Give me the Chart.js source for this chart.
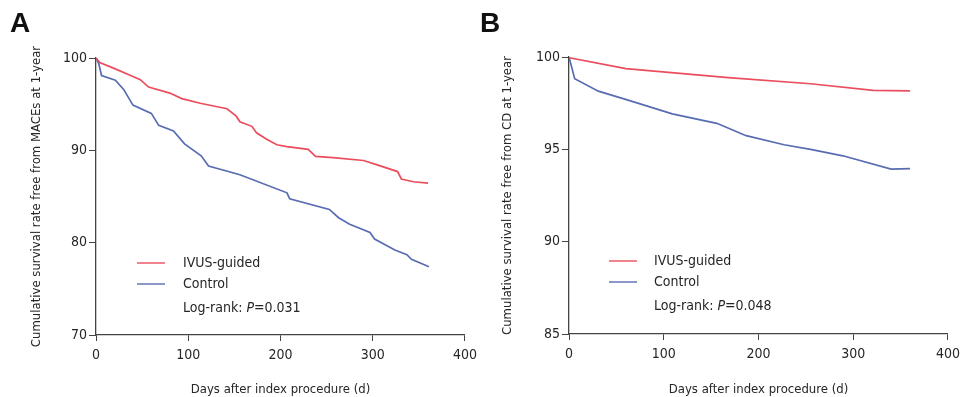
<!DOCTYPE html>
<html>
<head>
<meta charset="utf-8">
<script src="https://cdn.jsdelivr.net/npm/chart.js@4.4.1/dist/chart.umd.min.js"></script>
<style>
  body { margin: 0; background: #fff; }
  #wrap { position: relative; width: 966px; height: 397px; overflow: hidden; }
  .panel { position: absolute; top: 0; width: 483px; height: 397px; }
  .tag { position: absolute; font: bold 28px "Liberation Sans", Arial, sans-serif; line-height: 28px; color: #111; }
</style>
</head>
<body>
<div id="wrap">
  <div class="panel" style="left:0"><canvas id="chartA"></canvas></div>
  <div class="panel" style="left:483px"><canvas id="chartB"></canvas></div>
  <div class="tag" style="left:10px;top:9px">A</div>
  <div class="tag" style="left:480px;top:9px">B</div>
</div>
<script>
// Panel A: survival free from MACEs (days, %)
const daysA_ivus = [0, 4, 19, 40, 48, 57, 80, 93, 113, 142, 152, 156, 169, 174, 185, 196, 207, 230, 238, 257, 290, 304, 327, 331, 344, 360];
const survA_ivus = [100, 99.5, 98.9, 98.0, 97.65, 96.85, 96.2, 95.6, 95.1, 94.5, 93.7, 93.1, 92.6, 91.9, 91.2, 90.6, 90.4, 90.1, 89.35, 89.2, 88.9, 88.45, 87.7, 86.9, 86.6, 86.45];
const daysA_ctrl = [0, 3, 6, 21, 30, 40, 60, 68, 84, 96, 114, 122, 156, 207, 210, 253, 263, 275, 297, 302, 324, 337, 342, 361];
const survA_ctrl = [100, 99.4, 98.1, 97.6, 96.6, 94.9, 94.0, 92.7, 92.1, 90.7, 89.4, 88.3, 87.35, 85.4, 84.75, 83.6, 82.7, 82.0, 81.1, 80.4, 79.2, 78.7, 78.2, 77.4];

// Panel B: survival free from CD (days, %)
const daysB_ivus = [0, 60, 102, 168, 255, 321, 360];
const survB_ivus = [99.96, 99.37, 99.18, 98.88, 98.55, 98.19, 98.17];
const daysB_ctrl = [0, 6, 31, 64, 109, 156, 187, 227, 255, 289, 340, 360];
const survB_ctrl = [100, 98.82, 98.15, 97.64, 96.92, 96.41, 95.74, 95.25, 95.0, 94.65, 93.93, 93.95];

const xTicks = [0, 100, 200, 300, 400];
const yTicksA = [70, 80, 90, 100];
const yTicksB = [85, 90, 95, 100];

const RED = 'rgb(234,78,94)';
const BLUE = 'rgb(88,108,178)';
const TXT = '#262626';
const AX = '#444';
const FONT = "'Liberation Sans Narrow', 'DejaVu Sans Condensed', Arial, sans-serif";

const pts = (xs, ys) => xs.map((x, i) => ({ x: x, y: ys[i] }));

// legend drawn inside the plot area
const insideLegend = {
  id: 'insideLegend',
  afterDraw(chart, args, opts) {
    const { ctx, chartArea } = chart;
    const x0 = chartArea.left, y0 = chartArea.top;
    ctx.save();
    ctx.font = '14px ' + FONT;
    ctx.textBaseline = 'middle';
    ctx.fillStyle = TXT;
    const rows = [
      { color: RED, text: 'IVUS-guided', dy: 0 },
      { color: BLUE, text: 'Control', dy: 21 }
    ];
    rows.forEach(r => {
      const y = y0 + opts.top + r.dy;
      ctx.strokeStyle = r.color;
      ctx.lineWidth = 1.4;
      ctx.beginPath();
      ctx.moveTo(x0 + opts.lineX, y);
      ctx.lineTo(x0 + opts.lineX + 28, y);
      ctx.stroke();
      ctx.fillText(r.text, x0 + opts.textX, y);
    });
    // Log-rank line with italic P
    const y = y0 + opts.top + 45;
    let x = x0 + opts.textX;
    ctx.fillText('Log-rank: ', x, y);
    x += ctx.measureText('Log-rank: ').width;
    ctx.font = 'italic 14px ' + FONT;
    ctx.fillText('P', x, y);
    x += ctx.measureText('P').width;
    ctx.font = '14px ' + FONT;
    ctx.fillText('=' + opts.p, x, y);
    ctx.restore();
  }
};

function makeChart(id, cfg) {
  return new Chart(document.getElementById(id), {
    type: 'line',
    data: {
      datasets: [
        { label: 'IVUS-guided', data: pts(cfg.xi, cfg.yi), borderColor: RED, borderWidth: 1.7, pointRadius: 0, tension: 0 },
        { label: 'Control', data: pts(cfg.xc, cfg.yc), borderColor: BLUE, borderWidth: 1.7, pointRadius: 0, tension: 0 }
      ]
    },
    options: {
      responsive: true,
      maintainAspectRatio: false,
      animation: false,
      layout: { padding: { left: 0, top: cfg.top, right: cfg.right, bottom: 0 } },
      plugins: {
        legend: { display: false },
        tooltip: { enabled: false },
        insideLegend: cfg.legend
      },
      scales: {
        x: {
          type: 'linear', min: 0, max: 400,
          afterBuildTicks: s => { s.ticks = xTicks.map(v => ({ value: v })); },
          afterFit: s => { s.height = cfg.xh; },
          grid: { drawOnChartArea: false, drawTicks: true, tickLength: 6, color: AX, lineWidth: 1 },
          border: { display: true, color: AX, width: 1.3 },
          ticks: { color: TXT, font: { family: FONT, size: 14 }, padding: 6, maxRotation: 0 },
          title: { display: true, text: 'Days after index procedure (d)', color: TXT, font: { family: FONT, size: 13 }, padding: { top: 0, bottom: 0 } }
        },
        y: {
          type: 'linear', min: cfg.ymin, max: 100,
          afterBuildTicks: s => { s.ticks = cfg.yt.map(v => ({ value: v })); },
          afterFit: s => { s.width = cfg.yw; },
          grid: { drawOnChartArea: false, drawTicks: true, tickLength: 7, color: AX, lineWidth: 1 },
          border: { display: true, color: AX, width: 1.3 },
          ticks: { color: TXT, font: { family: FONT, size: 14 }, padding: 2 },
          title: { display: true, text: cfg.ytitle, color: TXT, font: { family: FONT, size: 13 }, padding: { top: cfg.ytpad, bottom: 0 } }
        }
      }
    },
    plugins: [insideLegend]
  });
}

makeChart('chartA', {
  xi: daysA_ivus, yi: survA_ivus, xc: daysA_ctrl, yc: survA_ctrl,
  ymin: 70, yt: yTicksA, top: 58, right: 17, yw: 96, xh: 62, ytpad: 29,
  ytitle: 'Cumulative survival rate free from MACEs at 1-year',
  legend: { lineX: 41, textX: 87, top: 205, p: '0.031' }
});

makeChart('chartB', {
  xi: daysB_ivus, yi: survB_ivus, xc: daysB_ctrl, yc: survB_ctrl,
  ymin: 85, yt: yTicksB, top: 57, right: 13, yw: 86, xh: 63, ytpad: 17,
  ytitle: 'Cumulative survival rate free from CD at 1-year',
  legend: { lineX: 40, textX: 85, top: 204, p: '0.048' }
});
</script>
</body>
</html>
